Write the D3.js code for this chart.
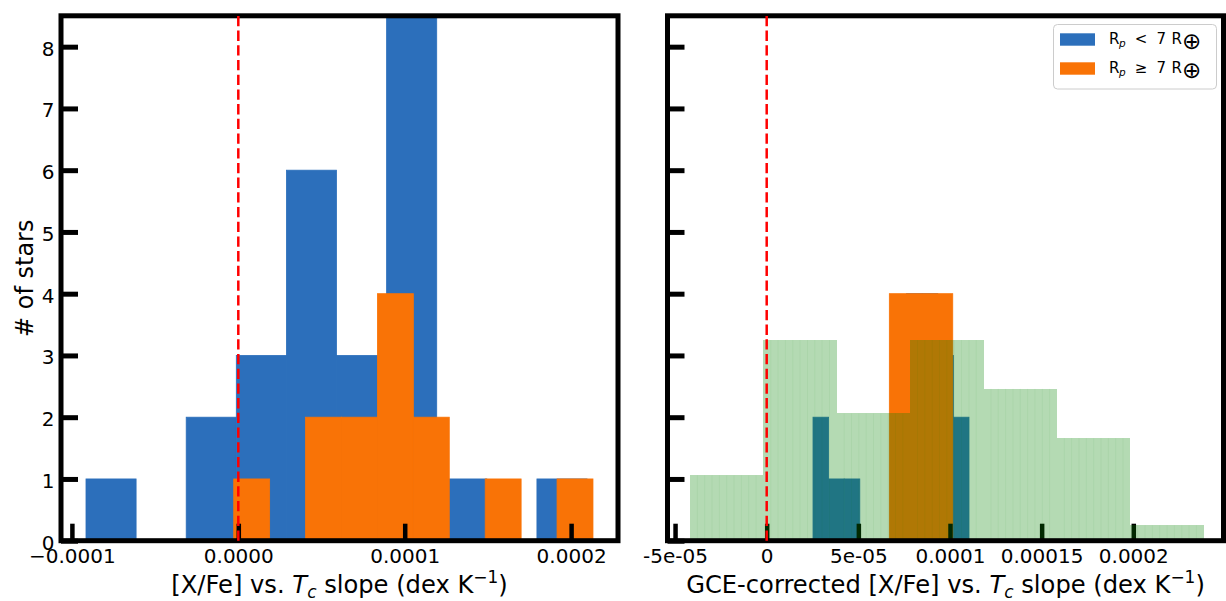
<!DOCTYPE html>
<html>
<head>
<meta charset="utf-8">
<script src="https://cdn.jsdelivr.net/npm/d3@7"></script>
<style>
body { margin: 0; background: #fff; }
text { font-family: "DejaVu Sans", sans-serif; fill: #000; }
</style>
</head>
<body>
<div id="chart"></div>
<script>
// slopes are given in units of 1e-4 dex/K

// left panel: [X/Fe] vs Tc slope
var blueLeftEdges = [-0.9153, -0.6142, -0.3131, -0.0120, 0.2891, 0.5902, 0.8913, 1.1924, 1.4935, 1.7946, 2.0957];
var blueLeftCounts = [1, 0, 2, 3, 6, 3, 9, 1, 0, 1];
var orangeLeftEdges = [-0.0276, 0.1883, 0.4042, 0.6201, 0.8360, 1.0519, 1.2678, 1.4837, 1.6996, 1.9155, 2.1314];
var orangeLeftCounts = [1, 0, 2, 2, 4, 2, 0, 1, 0, 1];

// right panel: GCE-corrected slope
var blueRightEdges = [0.2526, 0.3377, 0.4228, 0.5079, 0.5930, 0.6781, 0.7632, 0.8483, 0.9334, 1.0185, 1.1036];
var blueRightCounts = [2, 1, 1, 0, 0, 3, 4, 4, 3, 2];
var orangeRightEdges = [0.669, 1.015];
var orangeRightCounts = [4];
var greenEdges = [-0.4184, -0.0180, 0.3824, 0.7828, 1.1832, 1.5836, 1.9840, 2.3844];
var greenHeights = [1.06, 3.25, 2.06, 3.25, 2.46, 1.66, 0.25];

// ticks
var leftTicks = [-1, 0, 1, 2];
var leftTickLabels = ["\u22120.0001", "0.0000", "0.0001", "0.0002"];
var rightTicks = [-0.5, 0, 0.5, 1, 1.5, 2];
var rightTickLabels = ["-5e-05", "0", "5e-05", "0.0001", "0.00015", "0.0002"];
var yTicks = [0, 1, 2, 3, 4, 5, 6, 7, 8];

var legendLabels = ["<", "\u2265"];

var blue = "#2c6fbb";
var orange = "#f97306";
var green = "rgb(5,133,4)";

var width = 1226, height = 601;

var svg = d3.select("#chart")
    .append("svg")
    .attr("width", width)
    .attr("height", height);

var y = d3.scaleLinear()
    .domain([0, 8.5])
    .range([540.7, 15.8]);

var panels = [
    { x0: 61, x1: 618, domain: [-1.0655, 2.2818], ticks: leftTicks, labels: leftTickLabels, ylabels: true },
    { x0: 667.5, x1: 1223.5, domain: [-0.5412, 2.4921], ticks: rightTicks, labels: rightTickLabels, ylabels: false }
];

panels.forEach(function (p, k) {
    p.x = d3.scaleLinear().domain(p.domain).range([p.x0, p.x1]);
    var g = svg.append("g");
    g.append("clipPath").attr("id", "clip" + k)
        .append("rect")
        .attr("x", p.x0).attr("y", y.range()[1])
        .attr("width", p.x1 - p.x0).attr("height", y.range()[0] - y.range()[1]);
    p.g = g;
    p.bars = g.append("g").attr("clip-path", "url(#clip" + k + ")");
});

function histBars(sel, x, edges, counts, color) {
    var data = counts.map(function (c, i) {
        return { a: edges[i], b: edges[i + 1], n: c };
    }).filter(function (d) { return d.n > 0; });
    return sel.append("g")
        .selectAll("rect")
        .data(data)
        .enter()
        .append("rect")
        .attr("x", function (d) { return x(d.a); })
        .attr("width", function (d) { return x(d.b) - x(d.a); })
        .attr("y", function (d) { return y(d.n); })
        .attr("height", function (d) { return y(0) - y(d.n); })
        .attr("fill", color);
}

function drawAxes(p) {
    var xa = d3.axisBottom(p.x)
        .tickValues(p.ticks)
        .tickFormat(function (d, i) { return p.labels[i]; })
        .tickSizeInner(-17)
        .tickSizeOuter(0)
        .tickPadding(8);
    var gx = p.g.append("g")
        .attr("transform", "translate(0," + y(0) + ")")
        .call(xa);
    gx.select(".domain").remove();
    gx.selectAll("line").attr("stroke", "#000").attr("stroke-width", 4.5);
    gx.selectAll("text").style("font-size", "20px").attr("fill", "#000");

    var ya = d3.axisLeft(y)
        .tickValues(yTicks)
        .tickSizeInner(-17)
        .tickSizeOuter(0)
        .tickPadding(6.5);
    if (!p.ylabels) ya.tickFormat("");
    var gy = p.g.append("g")
        .attr("transform", "translate(" + p.x0 + ",0)")
        .call(ya);
    gy.select(".domain").remove();
    gy.selectAll("line").attr("stroke", "#000").attr("stroke-width", 5);
    gy.selectAll("text").style("font-size", "20px").attr("fill", "#000").attr("dy", "0.42em");
}

function drawFrame(p) {
    p.g.append("rect")
        .attr("x", p.x0).attr("y", y.range()[1])
        .attr("width", p.x1 - p.x0).attr("height", y.range()[0] - y.range()[1])
        .attr("fill", "none")
        .attr("stroke", "#000")
        .attr("stroke-width", 5);
}

function drawZero(p) {
    p.g.append("line")
        .attr("x1", p.x(0)).attr("x2", p.x(0))
        .attr("y1", y(0)).attr("y2", y.range()[1])
        .attr("stroke", "#ff0000")
        .attr("stroke-width", 2.5)
        .attr("stroke-dasharray", "10.3,4.4");
}

// left panel
var L = panels[0];
histBars(L.bars, L.x, blueLeftEdges, blueLeftCounts, blue).attr("stroke", blue).attr("stroke-width", 0.8);
histBars(L.bars, L.x, orangeLeftEdges, orangeLeftCounts, orange).attr("stroke", orange).attr("stroke-width", 0.8);
drawAxes(L);
drawFrame(L);
drawZero(L);

// right panel
var R = panels[1];
histBars(R.bars, R.x, blueRightEdges, blueRightCounts, blue).attr("stroke", blue).attr("stroke-width", 0.8);
histBars(R.bars, R.x, orangeRightEdges, orangeRightCounts, orange).attr("stroke", orange).attr("stroke-width", 0.8);
drawAxes(R);
var gGreen = R.g.append("g").attr("clip-path", "url(#clip1)");
histBars(gGreen, R.x, greenEdges, greenHeights, green)
    .attr("fill-opacity", 0.3)
    .attr("shape-rendering", "crispEdges");
// faint seams inside each green bin (each bin is made of ten thin bars)
greenHeights.forEach(function (h, i) {
    var a = R.x(greenEdges[i]), b = R.x(greenEdges[i + 1]);
    d3.range(1, 10).forEach(function (j) {
        var xx = a + (b - a) * j / 10;
        gGreen.append("line")
            .attr("x1", xx).attr("x2", xx)
            .attr("y1", y(h)).attr("y2", y(0))
            .attr("stroke", green)
            .attr("stroke-opacity", 0.05)
            .attr("stroke-width", 1);
    });
});
drawFrame(R);
drawZero(R);

// axis labels
function richText(sel, parts, size) {
    parts.forEach(function (pt) {
        var t = sel.append("tspan").text(pt.t);
        if (pt.it) t.style("font-style", "italic");
        if (pt.sub) t.style("font-size", (size * 0.7) + "px").attr("dy", size * 0.22);
        if (pt.sup) t.style("font-size", (size * 0.7) + "px").attr("dy", -size * 0.42);
        if (pt.back) t.attr("dy", pt.back * size);
    });
}

var slopeParts = [
    { t: "[X/Fe] vs. " },
    { t: "T", it: true },
    { t: "c", it: true, sub: true },
    { t: " slope (dex K", back: -0.22 },
    { t: "\u22121", sup: true },
    { t: ")", back: 0.42 }
];

richText(svg.append("text")
    .attr("x", (L.x0 + L.x1) / 2).attr("y", 593)
    .attr("text-anchor", "middle")
    .style("font-size", "24.2px"), slopeParts, 24.2);

richText(svg.append("text")
    .attr("x", (R.x0 + R.x1) / 2).attr("y", 593)
    .attr("text-anchor", "middle")
    .style("font-size", "24.2px"), [{ t: "GCE-corrected " }].concat(slopeParts), 24.2);

svg.append("text")
    .attr("transform", "translate(33," + ((y.range()[0] + y.range()[1]) / 2) + ") rotate(-90)")
    .attr("text-anchor", "middle")
    .style("font-size", "24px")
    .text("# of stars");

// legend
var lg = svg.append("g");
lg.append("rect")
    .attr("x", 1053.5).attr("y", 24.5)
    .attr("width", 163).attr("height", 64.5)
    .attr("rx", 4)
    .attr("fill", "#fff").attr("fill-opacity", 0.8)
    .attr("stroke", "#cccccc").attr("stroke-width", 1);

[blue, orange].forEach(function (c, i) {
    var yy = 33.3 + i * 29;
    lg.append("rect")
        .attr("x", 1060).attr("y", yy)
        .attr("width", 35).attr("height", 12.4)
        .attr("fill", c);
    var base = yy + 11;
    lg.append("text").attr("x", 1109).attr("y", base).style("font-size", "15px").text("R");
    lg.append("text").attr("x", 1119).attr("y", base + 3).style("font-size", "10.5px").style("font-style", "italic").text("p");
    lg.append("text").attr("x", 1141).attr("y", base).attr("text-anchor", "middle").style("font-size", "15px").text(legendLabels[i]);
    lg.append("text").attr("x", 1156.5).attr("y", base).style("font-size", "15px").text("7");
    lg.append("text").attr("x", 1171.5).attr("y", base).style("font-size", "15px").text("R");
    lg.append("text").attr("x", 1182).attr("y", base + 5).style("font-size", "23px").text("\u2295");
});
</script>
</body>
</html>
